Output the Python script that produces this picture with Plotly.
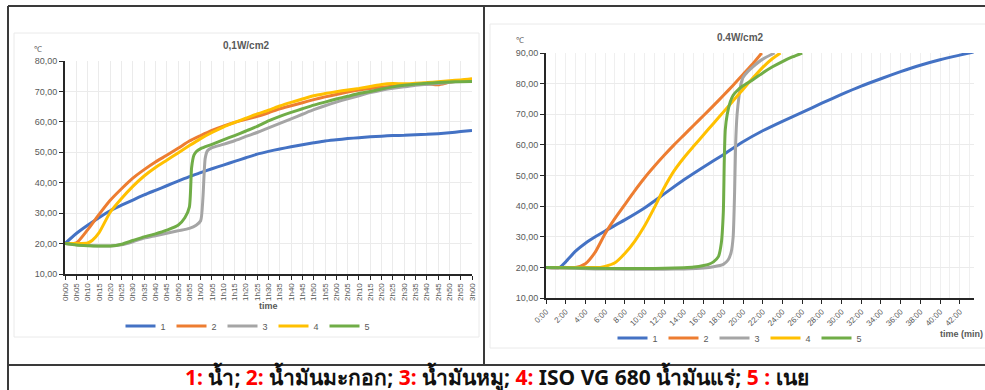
import plotly.graph_objects as go

W, H = 985, 390

# ---------------- Left chart: 0,1 W/cm2 (time in minutes) ----------------
t_l = [0, 5, 10, 15, 20, 25, 30, 35, 40, 45, 50, 55, 60, 65, 70, 75, 80, 85, 90,
       95, 100, 105, 110, 115, 120, 125, 130, 135, 140, 145, 150, 155, 160, 165,
       170, 175, 180]
l_s1 = [20, 23.3, 26, 28.5, 30.8, 32.6, 34.3, 36, 37.5, 39, 40.5, 42, 43.3, 44.6,
        45.8, 47, 48.2, 49.4, 50.3, 51.1, 51.8, 52.5, 53.1, 53.7, 54.1, 54.5, 54.8,
        55.1, 55.3, 55.5, 55.6, 55.8, 55.9, 56.1, 56.4, 56.8, 57.2]
l_s2 = [20, 20.2, 24.5, 29.5, 34.2, 38, 41.5, 44.3, 46.8, 49, 51.3, 53.7, 55.5,
        57.2, 58.6, 59.8, 60.8, 61.8, 63, 64.3, 65.3, 66.3, 67.3, 68.2, 69, 69.8,
        70.5, 71, 71.4, 71.7, 72, 72.3, 72.5, 72.2, 73, 73.5, 74]
t_l4 = [0, 5, 10, 12, 15, 20, 25, 30, 35, 40, 45, 50, 55, 60, 65, 70, 75, 80, 85,
        90, 95, 100, 105, 110, 115, 120, 125, 130, 135, 140, 145, 150, 155, 160,
        165, 170, 175, 180]
l_s4 = [20, 20, 20.2, 21, 23.5, 30.3, 34.8, 38.8, 42.2, 45, 47.4, 49.8, 52.2, 54.5,
        56.5, 58.3, 59.8, 61.2, 62.6, 63.8, 65.2, 66.4, 67.5, 68.6, 69.3, 69.9,
        70.5, 71, 71.6, 72.3, 72.6, 72.5, 72.7, 72.9, 73.2, 73.5, 73.8, 74.2]
t_l3 = [0, 5, 10, 15, 20, 25, 30, 35, 40, 45, 50, 55, 58, 60, 61, 62, 63, 65, 70,
        75, 80, 85, 90, 95, 100, 105, 110, 115, 120, 125, 130, 135, 140, 145, 150,
        155, 160, 165, 170, 175, 180]
l_s3 = [20, 19.6, 19.4, 19.2, 19.2, 19.6, 20.6, 21.8, 22.6, 23.4, 24.2, 25, 26,
        27.5, 35, 48, 50.5, 51.5, 52.6, 53.8, 55.2, 56.5, 58, 59.5, 61, 62.5, 64,
        65.3, 66.5, 67.6, 68.6, 69.6, 70.4, 71, 71.5, 72, 72.3, 72.6, 73, 73.3, 73.5]
t_l5 = [0, 5, 10, 15, 20, 25, 30, 35, 40, 45, 50, 53, 55, 56, 57, 58, 60, 65, 70,
        75, 80, 85, 90, 95, 100, 105, 110, 115, 120, 125, 130, 135, 140, 145, 150,
        155, 160, 165, 170, 175, 180]
l_s5 = [20, 19.5, 19.3, 19.2, 19.2, 19.8, 21, 22.2, 23.2, 24.4, 26, 28.5, 32, 45,
        49, 50.2, 51.2, 52.6, 54.1, 55.5, 57, 58.5, 60.3, 61.8, 63.1, 64.3, 65.5,
        66.5, 67.5, 68.4, 69.3, 70, 70.8, 71.5, 72, 72.4, 72.7, 72.9, 73.1, 73.2, 73.3]

l_tickvals = list(range(0, 181, 5))
l_ticktext = ["%dh%02d" % (m // 60, m % 60) for m in l_tickvals]
l_yvals = [10, 20, 30, 40, 50, 60, 70, 80]
l_ytext = ["10,00", "20,00", "30,00", "40,00", "50,00", "60,00", "70,00", "80,00"]

# ---------------- Right chart: 0.4 W/cm2 (time in minutes) ----------------
t_r1 = [0, 1.4, 2, 3, 4, 5, 6, 8, 10, 12, 14, 16, 18, 20, 22, 24, 26, 28, 30, 32,
        34, 36, 38, 40, 42, 43.4]
r_s1 = [20, 20, 21.8, 25.3, 27.9, 30, 31.9, 35.5, 39.4, 44, 48.6, 52.8, 56.8, 61,
        64.6, 67.7, 70.6, 73.6, 76.5, 79.2, 81.6, 83.9, 86, 87.8, 89.3, 90.3]
t_r2 = [0, 3, 4, 5, 6, 7, 8, 9, 10, 11, 12, 13, 14, 15, 16, 17, 18, 19, 20, 21, 21.9]
r_s2 = [20, 20, 21.2, 25, 31, 36, 40.5, 45, 49.2, 53, 56.6, 60, 63.2, 66.4, 69.6,
        72.8, 76.1, 79.5, 83, 86.5, 90]
t_r3 = [0, 2, 5, 8, 10, 12, 14, 16, 17, 18, 18.5, 18.8, 19, 19.15, 19.25, 19.4,
        19.6, 19.8, 20, 20.5, 21, 22, 23.2]
r_s3 = [20, 19.8, 19.5, 19.4, 19.4, 19.4, 19.5, 19.8, 20.2, 21, 22.5, 25, 30, 45,
        60, 70, 76, 80, 82, 84, 85.5, 88, 90]
t_r4 = [0, 5.5, 6, 7, 8, 9, 10, 11, 12, 13, 14, 15, 16, 17, 18, 19, 20, 21, 22,
        23, 23.8]
r_s4 = [20, 20, 20.3, 21.5, 24.5, 28.5, 33.5, 39.5, 46, 51.5, 55.8, 59.6, 63.3,
        67, 70.7, 74.4, 78.1, 81.8, 85.3, 88.2, 90]
t_r5 = [0, 2, 5, 8, 10, 12, 14, 15, 16, 16.5, 17, 17.5, 17.8, 18, 18.1, 18.2,
        18.4, 18.7, 19, 19.5, 20, 21, 22, 23, 24, 25, 26]
r_s5 = [20, 19.9, 19.7, 19.6, 19.6, 19.7, 19.9, 20.1, 20.6, 21, 21.8, 23.5, 28,
        38, 55, 65, 70, 74, 76.2, 78, 79.3, 81.3, 83.5, 85.5, 87.2, 88.7, 90]

r_tickvals = list(range(0, 43, 2))
r_ticktext = ["%d:00" % m for m in r_tickvals]
r_yvals = [10, 20, 30, 40, 50, 60, 70, 80, 90]
r_ytext = ["10,00", "20,00", "30,00", "40,00", "50,00", "60,00", "70,00", "80,00", "90,00"]

names = ["1", "2", "3", "4", "5"]
colors = ["#4472C4", "#ED7D31", "#A5A5A5", "#FFC000", "#70AD47"]

caption = ("<b><span style='color:#FF0000'>1:</span> น้ำ; "
           "<span style='color:#FF0000'>2:</span> น้ำมันมะกอก; "
           "<span style='color:#FF0000'>3:</span> น้ำมันหมู; "
           "<span style='color:#FF0000'>4:</span> ISO VG 680 น้ำมันแร่; "
           "<span style='color:#FF0000'>5 :</span> เนย</b>")


def px(x):
    return x / W


def py(y):
    return 1 - y / H


fig = go.Figure()

left_series = [(t_l, l_s1), (t_l, l_s2), (t_l3, l_s3), (t_l4, l_s4), (t_l5, l_s5)]
right_series = [(t_r1, r_s1), (t_r2, r_s2), (t_r3, r_s3), (t_r4, r_s4), (t_r5, r_s5)]

for i, (tx, ty) in enumerate(left_series):
    fig.add_trace(go.Scatter(x=tx, y=ty, mode="lines", name=names[i],
                             line=dict(color=colors[i], width=3, shape="spline",
                                       smoothing=0.6),
                             xaxis="x", yaxis="y", legend="legend"))
for i, (tx, ty) in enumerate(right_series):
    fig.add_trace(go.Scatter(x=tx, y=ty, mode="lines", name=names[i],
                             line=dict(color=colors[i], width=3, shape="spline",
                                       smoothing=0.6),
                             xaxis="x2", yaxis="y2", legend="legend2"))

tickfont = dict(family="Liberation Sans, Arial, sans-serif", size=8, color="#595959")
ytickfont = dict(family="Liberation Sans, Arial, sans-serif", size=9, color="#595959")

fig.update_layout(
    width=W, height=H,
    margin=dict(l=0, r=0, t=0, b=0, autoexpand=False),
    paper_bgcolor="white", plot_bgcolor="white",
    font=dict(family="Liberation Sans, Arial, sans-serif", color="#595959"),
    xaxis=dict(domain=[px(65), px(472)], range=[0, 180], tickvals=l_tickvals,
               ticktext=l_ticktext, tickangle=-90, tickfont=tickfont,
               showgrid=True, gridcolor="#EBEBEB", gridwidth=1,
               showline=True, linecolor="#262626", linewidth=2,
               ticks="outside", ticklen=4, tickcolor="#262626", zeroline=False,
               anchor="y"),
    yaxis=dict(domain=[py(274), py(61)], range=[10, 80], tickvals=l_yvals,
               ticktext=l_ytext, tickfont=ytickfont,
               showgrid=True, gridcolor="#EBEBEB", gridwidth=1,
               showline=True, linecolor="#262626", linewidth=2,
               ticks="outside", ticklen=4, tickcolor="#262626", zeroline=False,
               anchor="x"),
    xaxis2=dict(domain=[px(546), px(974)], range=[0, 43.45], tickvals=r_tickvals,
                ticktext=r_ticktext, tickangle=-45, tickfont=tickfont,
                showgrid=False,
                minor=dict(dtick=1, tick0=0, showgrid=True, gridcolor="#EFEFEF",
                           gridwidth=1),
                showline=True, linecolor="#262626", linewidth=2,
                ticks="outside", ticklen=4, tickcolor="#262626", zeroline=False,
                anchor="y2"),
    yaxis2=dict(domain=[py(298), py(53)], range=[10, 90], tickvals=r_yvals,
                ticktext=r_ytext, tickfont=ytickfont,
                showgrid=True, gridcolor="#EBEBEB", gridwidth=1,
                showline=True, linecolor="#262626", linewidth=2,
                ticks="outside", ticklen=4, tickcolor="#262626", zeroline=False,
                anchor="x2"),
    legend=dict(orientation="h", x=px(248), y=py(326), xanchor="center",
                yanchor="middle", font=dict(size=9, color="#595959"),
                itemwidth=30, entrywidth=6, bgcolor="rgba(0,0,0,0)", tracegroupgap=0),
    legend2=dict(orientation="h", x=px(740), y=py(338), xanchor="center",
                 yanchor="middle", font=dict(size=9, color="#595959"),
                 itemwidth=30, entrywidth=6, bgcolor="rgba(0,0,0,0)", tracegroupgap=0),
    showlegend=True,
)

ann = [
    dict(x=px(246), y=py(45), text="<b>0,1W/cm2</b>", font=dict(size=10, color="#595959")),
    dict(x=px(740), y=py(37), text="<b>0.4W/cm2</b>", font=dict(size=10, color="#595959")),
    dict(x=px(38), y=py(50), text="℃", font=dict(size=8, color="#595959")),
    dict(x=px(520), y=py(41), text="℃", font=dict(size=8, color="#595959")),
    dict(x=px(268), y=py(306), text="<b>time</b>", font=dict(size=9, color="#595959")),
    dict(x=px(961), y=py(334), text="<b>time (min)</b>", font=dict(size=9, color="#595959")),
    dict(x=px(497), y=py(377), text=caption,
         font=dict(size=21, color="#111111", family="Tahoma, Noto Sans, DejaVu Sans, sans-serif")),
]
for a in ann:
    a.update(xref="paper", yref="paper", showarrow=False, xanchor="center", yanchor="middle")
fig.update_layout(annotations=ann)

line_c = "#3A3A3A"
shapes = [
    # outer table borders
    dict(type="line", x0=px(8), x1=1, y0=py(6), y1=py(6), line=dict(color=line_c, width=2)),
    dict(type="line", x0=px(8), x1=px(8), y0=py(6), y1=0, line=dict(color=line_c, width=2)),
    dict(type="line", x0=px(484), x1=px(484), y0=py(6), y1=py(365), line=dict(color=line_c, width=2)),
    dict(type="line", x0=px(8), x1=1, y0=py(365), y1=py(365), line=dict(color=line_c, width=2)),
    # Excel chart-area frames
    dict(type="rect", x0=px(14), x1=px(479), y0=py(337), y1=py(33), line=dict(color="#EAEAEA", width=1)),
    dict(type="rect", x0=px(490), x1=px(992), y0=py(348), y1=py(24), line=dict(color="#EAEAEA", width=1)),
]
for s in shapes:
    s.update(xref="paper", yref="paper", layer="below")
fig.update_layout(shapes=shapes)

fig.write_html("out.html", config={"displayModeBar": False},
               post_script="document.body.style.margin='0px';document.body.style.overflow='hidden';")
